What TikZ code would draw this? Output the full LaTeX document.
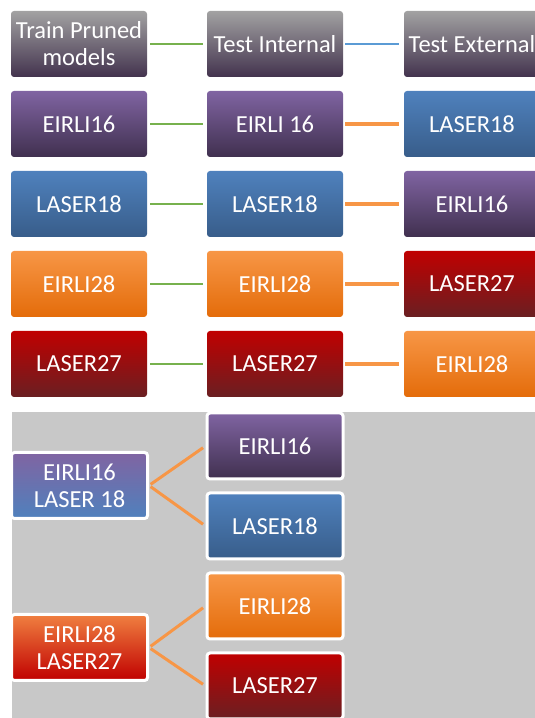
\documentclass[tikz,border=0pt]{standalone}
\usepackage{fontspec}
\setmainfont{Carlito}
\definecolor{bggray}{HTML}{C8C8C8}
\definecolor{hdrtop}{HTML}{A2A2A2}
\definecolor{hdrbot}{HTML}{43334E}
\definecolor{purtop}{HTML}{8064A2}
\definecolor{purbot}{HTML}{40304F}
\definecolor{blutop}{HTML}{4F81BD}
\definecolor{blubot}{HTML}{385D8A}
\definecolor{oratop}{HTML}{F79646}
\definecolor{orabot}{HTML}{E46C0A}
\definecolor{redtop}{HTML}{C00000}
\definecolor{redbot}{HTML}{6A1F22}
\definecolor{mixtop}{HTML}{F08040}
\definecolor{glinec}{HTML}{77B14E}
\definecolor{blinec}{HTML}{5B9BD5}
\definecolor{olinec}{HTML}{F79646}
\begin{document}
\begin{tikzpicture}[x=1pt,y=1pt,
  box/.style={rectangle, rounded corners=3pt, minimum width=136pt, minimum height=66pt,
    inner sep=0pt, text=white, font=\fontsize{24.5}{27}\selectfont, align=center},
  hdr/.style={box, top color=hdrtop, bottom color=hdrbot},
  pur/.style={box, top color=purtop, bottom color=purbot},
  blu/.style={box, top color=blutop, bottom color=blubot},
  ora/.style={box, top color=oratop, bottom color=orabot},
  red/.style={box, top color=redtop, bottom color=redbot},
  pb/.style={box, top color=purtop, bottom color=blutop},
  orr/.style={box, top color=mixtop, bottom color=redtop},
  wb/.style={draw=white, line width=3pt},
  gline/.style={draw=glinec, line width=2pt, shorten <=3pt, shorten >=4pt},
  bline/.style={draw=blinec, line width=2pt, shorten <=2pt, shorten >=5pt},
  oline/.style={draw=olinec, line width=4pt, shorten <=2pt, shorten >=5pt},
  tline/.style={draw=olinec, line width=3pt, shorten <=2pt, shorten >=3pt}]
\useasboundingbox (0,0) rectangle (535,718);
\clip (0,0) rectangle (535,718);
\fill[bggray] (12,0) rectangle (535,306);
% top table
\node[hdr] (h1) at (79,674) {Train Pruned\\models};
\node[hdr] (h2) at (275,674) {Test Internal};
\node[hdr] (h3) at (472,674) {Test External};
\node[pur] (a1) at (79,594) {EIRLI16};
\node[pur] (a2) at (275,594) {EIRLI 16};
\node[blu] (a3) at (472,594) {LASER18};
\node[blu] (b1) at (79,514) {LASER18};
\node[blu] (b2) at (275,514) {LASER18};
\node[pur] (b3) at (472,514) {EIRLI16};
\node[ora] (c1) at (79,434) {EIRLI28};
\node[ora] (c2) at (275,434) {EIRLI28};
\node[red] (c3) at (472,434) {LASER27};
\node[red] (d1) at (79,354) {LASER27};
\node[red] (d2) at (275,354) {LASER27};
\node[ora] (d3) at (472,354) {EIRLI28};
\draw[gline] (h1) -- (h2);
\draw[bline] (h2) -- (h3);
\draw[gline] (a1) -- (a2);
\draw[oline] (a2) -- (a3);
\draw[gline] (b1) -- (b2);
\draw[oline] (b2) -- (b3);
\draw[gline] (c1) -- (c2);
\draw[oline] (c2) -- (c3);
\draw[gline] (d1) -- (d2);
\draw[oline] (d2) -- (d3);
% bottom tree
\node[pb, wb] (l1) at (79.5,232.5) {EIRLI16\\LASER 18};
\node[orr, wb] (l2) at (79.5,70.5) {EIRLI28\\LASER27};
\node[pur, wb] (r1) at (275,272) {EIRLI16};
\node[blu, wb] (r2) at (275,192) {LASER18};
\node[ora, wb] (r3) at (275,112) {EIRLI28};
\node[red, wb] (r4) at (275,32) {LASER27};
\draw[tline] (l1.east) -- (r1.west);
\draw[tline] (l1.east) -- (r2.west);
\draw[tline] (l2.east) -- (r3.west);
\draw[tline] (l2.east) -- (r4.west);
\end{tikzpicture}
\end{document}
